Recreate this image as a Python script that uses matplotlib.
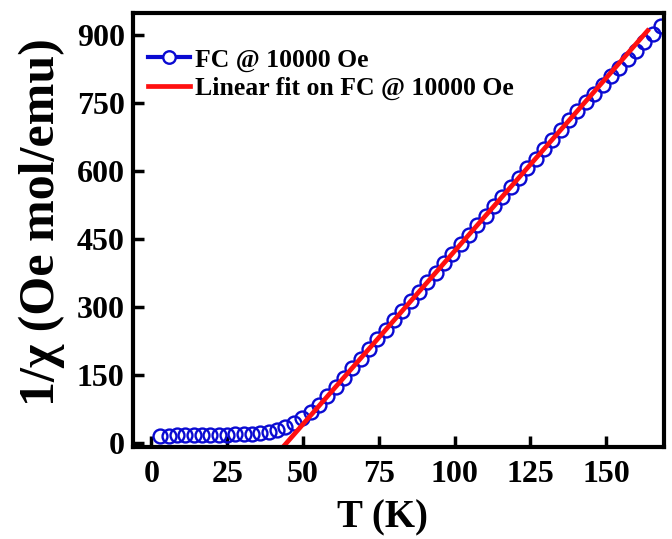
import matplotlib
matplotlib.use("Agg")
import matplotlib.pyplot as plt
from matplotlib.lines import Line2D

# FC data at 10000 Oe: temperature (K) and inverse susceptibility
T = [3.00, 5.75, 8.50, 11.25, 14.00, 16.75, 19.50, 22.25, 25.00, 27.75,
     30.50, 33.25, 36.00, 38.75, 41.50, 44.25, 47.00, 49.75, 52.50, 55.25,
     58.00, 60.75, 63.50, 66.25, 69.00, 71.75, 74.50, 77.25, 80.00, 82.75,
     85.50, 88.25, 91.00, 93.75, 96.50, 99.25, 102.00, 104.75, 107.50, 110.25,
     113.00, 115.75, 118.50, 121.25, 124.00, 126.75, 129.50, 132.25, 135.00, 137.75,
     140.50, 143.25, 146.00, 148.75, 151.50, 154.25, 157.00, 159.75, 162.50, 165.25,
     168.00]
inv_chi = [17, 17, 17.5, 17.5, 18, 18, 18.5, 18.5, 19, 19.5,
           20, 21, 22.5, 25, 29, 36, 45, 56, 69, 85,
           104, 124, 145, 166, 187, 208, 229, 250, 271, 292,
           313, 334, 355, 376, 397, 418, 439, 460, 481, 502,
           523, 544, 565, 586, 607, 628, 649, 670, 691, 712,
           733, 752, 771, 790, 809, 828, 847, 866, 885, 903,
           920]

# linear (Curie-Weiss) fit
fit_slope = 7.64
fit_T0 = 44.5
fit_range = [43.3, 163.6]
fit_y = [fit_slope * (t - fit_T0) for t in fit_range]

plt.rcParams['font.family'] = ['Liberation Serif', 'DejaVu Serif']
plt.rcParams['font.weight'] = 'bold'

fig = plt.figure(figsize=(6.72, 5.39), dpi=100)
ax = fig.add_axes([0.198, 0.17, 0.79, 0.805])

ax.plot(T, inv_chi, linestyle='none', marker='o', markersize=10,
        markerfacecolor='none', markeredgecolor='#0a0ad2', markeredgewidth=1.7)
ax.plot(fit_range, fit_y, color='#ff1010', linewidth=3.4)

ax.set_xlim(-6, 169)
ax.set_ylim(-9, 948)
ax.set_xticks([0, 25, 50, 75, 100, 125, 150])
ax.set_yticks([0, 150, 300, 450, 600, 750, 900])

for s in ax.spines.values():
    s.set_linewidth(3)
ax.tick_params(direction='in', length=8, width=2.5, labelsize=23, pad=6)
ax.tick_params(axis='x', pad=9)
for lab in ax.get_xticklabels() + ax.get_yticklabels():
    lab.set_fontweight('bold')

ax.set_xlabel("T (K)", fontsize=28, fontweight='bold')
ax.xaxis.set_label_coords(0.47, -0.12)
ax.set_ylabel("1/χ (Oe mol/emu)", fontsize=36, fontweight='bold')
ax.yaxis.set_label_coords(-0.128, 0.52)

handles = [
    Line2D([], [], color='#0a0ad2', linewidth=3, marker='o', markersize=9,
           markerfacecolor='white', markeredgecolor='#0a0ad2', markeredgewidth=1.7),
    Line2D([], [], color='#ff1010', linewidth=3.4),
]
ax.legend(handles, ["FC @ 10000 Oe", "Linear fit on FC @ 10000 Oe"],
          loc='upper left', bbox_to_anchor=(0.0, 0.955), frameon=False,
          handlelength=1.6, handletextpad=0.2, labelspacing=0.2,
          borderaxespad=0.2, prop={'weight': 'bold', 'size': 18.5})

fig.savefig("out.png", dpi=100)
